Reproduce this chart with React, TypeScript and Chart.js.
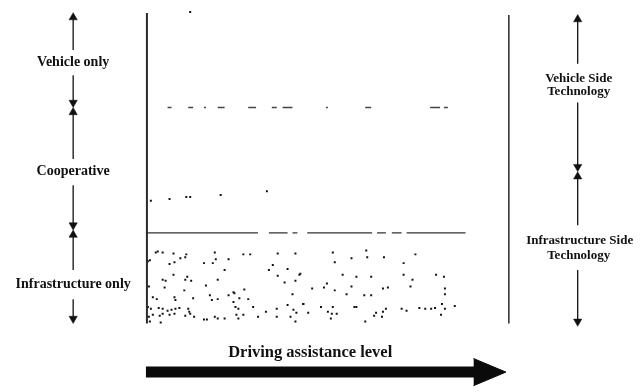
import { useEffect, useRef } from "react";
import { Chart, registerables } from "chart.js";

Chart.register(...registerables);

// Figure coordinates: x 0..642 (left→right), y 0..392 (top→bottom)
const FIG_W = 642;
const FIG_H = 392;

// Frame of the diagram (vertical borders)
const FRAME_LINES: number[][][] = [
  [[144, 8], [144, 327]],
  [[512, 10], [512, 327]],
];
const FRAME_WIDTHS = [2, 1.5];

// Boundary between "Vehicle only" and "Cooperative" (sparse dashes), y level and x spans
const UPPER_BOUNDARY_Y = 105;
const UPPER_DASHES: number[][] = [
  [165, 169], [186, 191], [202, 204], [216, 223], [247, 255], [271, 276],
  [282, 292], [326, 328], [366, 372], [432, 442], [446, 450],
];

// Boundary between "Cooperative" and "Infrastructure only"
const LOWER_BOUNDARY_Y = 234;
const LOWER_SEGMENTS: number[][] = [
  [143, 257], [268, 287], [292, 297], [307, 373], [378, 387], [393, 403], [408, 468],
];

// Speckle marks (scan noise / infrastructure texture)
const SPECKS: number[][] = [
  [153, 254], [155, 253], [160, 254], [171, 255], [184, 256], [213, 254], [242, 256], [249, 256], [277, 255], [295, 255],
  [147, 262], [145, 263], [167, 266], [172, 264], [178, 260], [183, 259], [202, 265], [211, 265], [214, 261], [227, 261], [268, 272], [272, 267], [287, 271],
  [223, 272], [171, 277], [185, 279], [183, 282], [160, 282], [163, 283], [189, 283], [216, 282], [277, 278], [284, 285], [295, 283], [299, 277],
  [146, 289], [162, 290], [182, 293], [204, 288], [243, 292], [232, 295],
  [150, 300], [154, 302], [172, 300], [173, 303], [191, 301], [208, 298], [210, 303], [216, 302], [227, 298], [233, 296], [238, 301], [247, 302], [292, 297], [232, 305],
  [145, 310], [148, 312], [156, 311], [160, 312], [165, 314], [169, 313], [173, 312], [177, 311], [186, 312], [187, 315], [234, 310], [237, 312], [252, 310], [276, 312], [265, 315], [287, 308], [293, 313], [303, 307], [296, 316],
  [146, 320], [150, 318], [157, 319], [160, 317], [167, 318], [172, 317], [183, 319], [188, 317], [192, 320], [202, 323], [205, 323], [213, 320], [216, 322], [223, 322], [235, 318], [237, 322], [242, 318], [257, 320], [276, 320], [290, 320], [147, 325], [158, 326], [295, 325],
  [333, 254], [335, 264], [352, 260], [367, 252], [368, 259], [385, 259], [417, 256], [405, 265],
  [300, 276], [343, 277], [357, 279], [372, 279], [405, 277], [414, 282], [438, 277], [446, 279],
  [312, 291], [324, 290], [327, 286], [335, 293], [347, 297], [352, 289], [365, 298], [372, 298], [384, 291], [389, 290], [412, 289], [447, 291], [447, 297],
  [303, 307], [308, 316], [321, 310], [328, 315], [332, 317], [333, 310], [337, 317], [331, 322], [355, 310], [357, 310], [366, 325], [375, 319], [377, 316], [383, 320], [387, 312], [384, 315], [403, 312], [408, 314], [421, 311], [427, 312], [433, 312], [437, 311], [444, 307], [447, 312], [443, 318], [457, 309],
  [148, 201], [167, 199], [184, 197], [188, 197], [219, 195], [266, 191], [188, 7],
];

// Left scale arrows (x position, shaft y spans)
const LEFT_ARROW_X = 69;
const LEFT_SHAFTS: number[][] = [[13, 46], [72, 100], [110, 158], [185, 226], [236, 272], [302, 322]];
const LEFT_HEADS_UP = [12.5, 110, 236];
const LEFT_HEADS_DOWN = [100, 226, 322];

// Right scale arrows
const RIGHT_ARROW_X = 582;
const RIGHT_SHAFTS: number[][] = [[15, 60], [100, 166], [176, 226], [272, 325]];
const RIGHT_HEADS_UP = [14.5, 176];
const RIGHT_HEADS_DOWN = [166, 325];

// Big "Driving assistance level" arrow
const BIG_ARROW_Y = 377;
const BIG_ARROW_SHAFT = [143, 478];
const BIG_ARROW_HEAD = { base: 476, tip: 509, half: 14 };

// Text labels
const LABEL_TEXT = [
  "Vehicle only", "Cooperative", "Infrastructure only",
  "Vehicle Side", "Technology", "Infrastructure Side", "Technology",
  "Driving assistance level",
];
const LABEL_X = [69, 69, 69, 583, 583, 584, 583, 310];
const LABEL_Y = [59, 171, 287, 75, 89, 242, 257, 357];
const LABEL_SIZE = [14, 14, 14, 13, 13, 13, 13, 16.5];

const INK = "#111";

function seg(points: number[][], width: number, color: string, dash?: number[]) {
  return {
    type: "line" as const,
    data: points.map(([x, y]) => ({ x, y })),
    showLine: true,
    borderColor: color,
    backgroundColor: color,
    borderWidth: width,
    borderDash: dash || [],
    pointRadius: 0,
    fill: false,
    tension: 0,
  };
}

const textPlugin = {
  id: "figText",
  afterDatasetsDraw(chart: any) {
    const { ctx, scales } = chart;
    ctx.save();
    ctx.fillStyle = INK;
    ctx.textAlign = "center";
    ctx.textBaseline = "middle";
    LABEL_TEXT.forEach((t, i) => {
      ctx.font = `bold ${LABEL_SIZE[i]}px "Liberation Serif", "Times New Roman", serif`;
      ctx.fillText(t, scales.x.getPixelForValue(LABEL_X[i]), scales.y.getPixelForValue(LABEL_Y[i]));
    });
    ctx.restore();
  },
};

export default function App() {
  const ref = useRef<HTMLCanvasElement | null>(null);

  useEffect(() => {
    document.body.style.margin = "0";
    if (!ref.current) return;
    const datasets: any[] = [];

    FRAME_LINES.forEach((pts, i) => datasets.push(seg(pts, FRAME_WIDTHS[i], "#2a2a2a")));
    UPPER_DASHES.forEach(([a, b]) =>
      datasets.push(seg([[a, UPPER_BOUNDARY_Y], [b, UPPER_BOUNDARY_Y]], 1.5, "#444")));
    LOWER_SEGMENTS.forEach(([a, b]) =>
      datasets.push(seg([[a, LOWER_BOUNDARY_Y], [b, LOWER_BOUNDARY_Y]], 1.3, "#333")));
    LEFT_SHAFTS.forEach(([a, b]) =>
      datasets.push(seg([[LEFT_ARROW_X, a], [LEFT_ARROW_X, b]], 1.3, INK)));
    RIGHT_SHAFTS.forEach(([a, b]) =>
      datasets.push(seg([[RIGHT_ARROW_X, a], [RIGHT_ARROW_X, b]], 1.3, INK)));

    // arrowheads
    const heads = [
      ...LEFT_HEADS_UP.map((y) => ({ x: LEFT_ARROW_X, y, r: 0 })),
      ...LEFT_HEADS_DOWN.map((y) => ({ x: LEFT_ARROW_X, y, r: 180 })),
      ...RIGHT_HEADS_UP.map((y) => ({ x: RIGHT_ARROW_X, y, r: 0 })),
      ...RIGHT_HEADS_DOWN.map((y) => ({ x: RIGHT_ARROW_X, y, r: 180 })),
    ];
    datasets.push({
      type: "scatter",
      data: heads.map((h) => ({ x: h.x, y: h.y })),
      pointStyle: "triangle",
      rotation: heads.map((h) => h.r),
      pointRadius: 4.8,
      pointBackgroundColor: INK,
      pointBorderColor: INK,
      pointBorderWidth: 0.5,
      showLine: false,
    });

    // specks
    datasets.push({
      type: "scatter",
      data: SPECKS.map(([x, y]) => ({ x, y })),
      pointStyle: "rect",
      pointRadius: 1.4,
      pointBackgroundColor: "#111",
      pointBorderColor: "#111",
      pointBorderWidth: 0,
      showLine: false,
    });

    // big arrow shaft
    datasets.push(seg([[BIG_ARROW_SHAFT[0], BIG_ARROW_Y], [BIG_ARROW_SHAFT[1], BIG_ARROW_Y]], 11, "#0a0a0a"));
    // big arrow head: two halves filled to the centre line
    [-1, 1].forEach((s) => {
      datasets.push({
        type: "line",
        data: [
          { x: BIG_ARROW_HEAD.base, y: BIG_ARROW_Y + s * BIG_ARROW_HEAD.half },
          { x: BIG_ARROW_HEAD.tip, y: BIG_ARROW_Y },
        ],
        showLine: true,
        borderColor: "#0a0a0a",
        backgroundColor: "#0a0a0a",
        borderWidth: 1,
        pointRadius: 0,
        fill: { value: BIG_ARROW_Y },
        tension: 0,
      });
    });

    const chart = new Chart(ref.current, {
      type: "scatter",
      data: { datasets },
      plugins: [textPlugin],
      options: {
        animation: false,
        responsive: false,
        events: [],
        layout: { padding: 0 },
        scales: {
          x: { type: "linear", min: 0, max: FIG_W, display: false },
          y: { type: "linear", min: 0, max: FIG_H, reverse: true, display: false },
        },
        plugins: {
          legend: { display: false },
          tooltip: { enabled: false },
          colors: { enabled: false },
        } as any,
      },
    });
    return () => chart.destroy();
  }, []);

  return (
    <div style={{ width: FIG_W, height: FIG_H, background: "#fff" }}>
      <canvas ref={ref} width={FIG_W} height={FIG_H} style={{ display: "block" }} />
    </div>
  );
}
